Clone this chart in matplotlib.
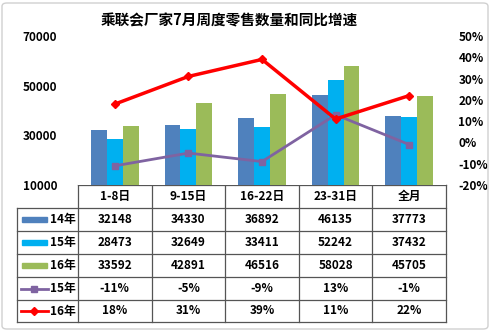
import numpy as np
import matplotlib.pyplot as plt
from matplotlib.patches import FancyBboxPatch, Rectangle
from matplotlib.lines import Line2D

plt.rcParams['font.family'] = ['Noto Sans CJK SC', 'DejaVu Sans']
plt.rcParams['font.weight'] = 'bold'

# 数据
periods = ["1-8日", "9-15日", "16-22日", "23-31日", "全月"]
sales_14 = [32148, 34330, 36892, 46135, 37773]
sales_15 = [28473, 32649, 33411, 52242, 37432]
sales_16 = [33592, 42891, 46516, 58028, 45705]
growth_15 = [-11, -5, -9, 13, -1]
growth_16 = [18, 31, 39, 11, 22]
row_names = ["14年", "15年", "16年", "15年", "16年"]

c14, c15, c16 = "#4F81BD", "#00B0F0", "#9BBB59"
cg15, cg16 = "#7F63A1", "#FF0000"

W, H = 491, 331
fig = plt.figure(figsize=(W / 100, H / 100), dpi=100)

# 外框
fig.add_artist(FancyBboxPatch((2 / W, 2 / H), 486 / W, 326 / H,
                              boxstyle="round,pad=0,rounding_size=0.01",
                              transform=fig.transFigure, fill=False,
                              edgecolor="#D0D0D0", linewidth=1))

left, right, top, bottom = 78, 446, 36, 185
ax = fig.add_axes([left / W, 1 - bottom / H, (right - left) / W, (bottom - top) / H])
x = np.arange(len(periods))
bw = 0.215
ax.bar(x - bw, sales_14, bw, color=c14, bottom=0)
ax.bar(x, sales_15, bw, color=c15)
ax.bar(x + bw, sales_16, bw, color=c16)
ax.set_xlim(-0.5, 4.5)
ax.set_ylim(10000, 70000)
ax.set_yticks([10000, 30000, 50000, 70000])
ax.set_xticks([])
ax.tick_params(axis="y", length=0, pad=15, labelsize=8.5)
for s in ax.spines.values():
    s.set_visible(False)

ax2 = ax.twinx()
ax2.plot(x, growth_15, color=cg15, linewidth=2, marker="s", markersize=4)
ax2.plot(x, growth_16, color=cg16, linewidth=2.5, marker="D", markersize=4.5)
ax2.set_ylim(-20, 50)
ax2.set_yticks(range(-20, 51, 10))
ax2.set_yticklabels([f"{v}%" for v in range(-20, 51, 10)])
ax2.tick_params(axis="y", length=0, pad=9, labelsize=8.5)
for s in ax2.spines.values():
    s.set_visible(False)

fig.text(229 / W, 1 - 20 / H, "乘联会厂家7月周度零售数量和同比增速",
         ha="center", va="center", fontsize=10.5, fontweight="bold")

# 数据表
tab = fig.add_axes([0, 0, 1, 1], zorder=-1)
tab.set_xlim(0, W)
tab.set_ylim(H, 0)
tab.axis("off")
cols = np.linspace(left, right, len(periods) + 1)
rows = [185, 208, 231, 254, 277, 300, 322]
label_left = 17
lc = "#555555"
lw = 0.9
for i, yy in enumerate(rows):
    x0 = left if i == 0 else label_left
    tab.plot([x0, right], [yy, yy], color=lc, lw=lw)
for j, xx in enumerate(cols):
    tab.plot([xx, xx], [rows[0], rows[-1]], color=lc, lw=lw)
tab.plot([label_left, label_left], [rows[1], rows[-1]], color=lc, lw=lw)

cell_rows = [periods,
             [str(v) for v in sales_14],
             [str(v) for v in sales_15],
             [str(v) for v in sales_16],
             [f"{v}%" for v in growth_15],
             [f"{v}%" for v in growth_16]]
for r, vals in enumerate(cell_rows):
    yc = (rows[r] + rows[r + 1]) / 2
    for j, v in enumerate(vals):
        tab.text((cols[j] + cols[j + 1]) / 2, yc, v, ha="center", va="center",
                 fontsize=8.5, fontweight="bold")

# 图例列
for r, name in enumerate(row_names):
    yc = (rows[r + 1] + rows[r + 2]) / 2
    if r < 3:
        tab.add_patch(Rectangle((22, yc - 2.5), 25, 5, color=[c14, c15, c16][r]))
    else:
        col = [cg15, cg16][r - 3]
        tab.plot([21, 48], [yc, yc], color=col, lw=2)
        tab.plot([34.5], [yc], color=col, marker="s" if r == 3 else "D", markersize=4)
    tab.text(50, yc, name, ha="left", va="center", fontsize=8.5, fontweight="bold")

fig.savefig("out.png", dpi=100)
